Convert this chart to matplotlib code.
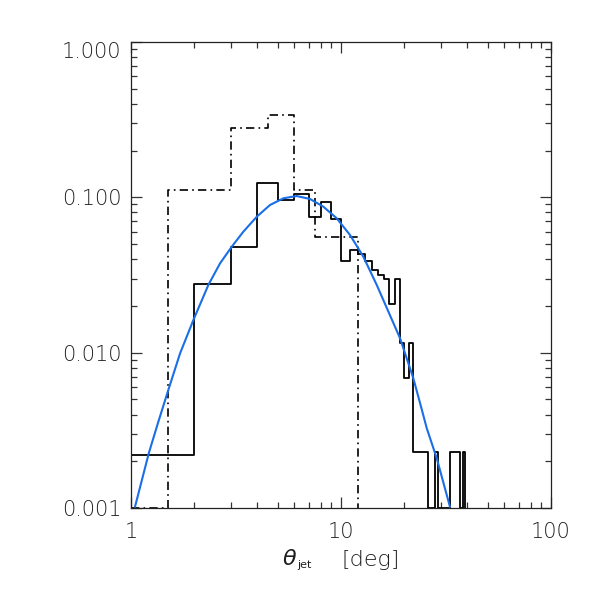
import numpy as np
import matplotlib
matplotlib.use("Agg")
import matplotlib.pyplot as plt

plt.rcParams['font.family'] = ['DejaVu Sans']
plt.rcParams['font.weight'] = 'light'

# solid histogram: integer bins from 1 to 39 deg
solid_edges = list(range(1, 40))
solid_vals = [0.0022, 0.0275, 0.0482, 0.123, 0.096, 0.105, 0.075, 0.094, 0.073,
              0.039, 0.0458, 0.0435, 0.0389, 0.0341, 0.0316, 0.0298, 0.0206,
              0.0298, 0.0115, 0.00685, 0.0115,
              0.0023, 0.0023, 0.0023, 0.0023, 0.0, 0.0, 0.0023,
              0.0, 0.0, 0.0, 0.0, 0.0023, 0.0023, 0.0023, 0.0023, 0.0, 0.0023]

# dash-dot histogram: 1.5 deg bins
dd_edges = [1.0, 1.5, 3.0, 4.5, 6.0, 7.5, 9.0, 10.5, 12.0]
dd_vals = [0.0, 0.111, 0.281, 0.338, 0.112, 0.0558, 0.0558, 0.0558]

# blue curve
curve_x = [1.045, 1.218, 1.349, 1.505, 1.712, 1.98, 2.335, 2.654, 3.017, 3.426,
           3.968, 4.590, 5.312, 6.152, 7.118, 8.237, 9.539, 11.04, 12.77, 14.79,
           16.81, 19.1, 22.09, 23.8, 25.6, 28.56, 33.0]
curve_y = [0.00102, 0.00228, 0.00359, 0.00575, 0.0099, 0.0162, 0.0273, 0.0376,
           0.0481, 0.0601, 0.0750, 0.0893, 0.0986, 0.1020, 0.0976, 0.0871,
           0.0733, 0.0572, 0.0415, 0.0273, 0.01837, 0.01238, 0.00684, 0.00472,
           0.00326, 0.00209, 0.00102]

ymin, ymax = 0.001, 1.0
txt_col = '#1e1e1e'


def step_xy(edges, vals):
    xs = np.repeat(edges, 2)
    ys = np.concatenate([[0], np.repeat(vals, 2), [0]])
    return xs, np.clip(ys, ymin, None)


fig = plt.figure(figsize=(5.91, 5.91), dpi=100)
ax = fig.add_axes([0.2217, 0.1404, 0.7107, 0.7885])

x, y = step_xy(solid_edges, solid_vals)
ax.plot(x, y, color='black', lw=1.3)
x, y = step_xy(dd_edges, dd_vals)
ax.plot(x, y, color='black', lw=1.2, dashes=(5, 2.5, 1, 2.5))
ax.plot(curve_x, curve_y, color='#1a6ee8', lw=1.5)

ax.set_xscale('log')
ax.set_yscale('log')
ax.set_xlim(1, 100)
ax.set_ylim(ymin, ymax)

ax.set_xticks([1, 10, 100])
ax.set_xticklabels(['1', '10', '100'])
ax.set_yticks([0.001, 0.01, 0.1, 1.0])
ax.set_yticklabels(['0.001', '0.010', '0.100', '1.000'])
ax.get_yticklabels()[-1].set_va('top')

ax.tick_params(which='both', direction='in', top=True, right=True, colors='#333333',
               labelcolor=txt_col, labelsize=15)
ax.tick_params(which='major', length=8, width=0.9)
ax.tick_params(which='minor', length=4, width=0.9)
ax.tick_params(axis='x', pad=10)
ax.tick_params(axis='y', pad=7)
for s in ax.spines.values():
    s.set_linewidth(0.9)
    s.set_color('#222222')

# x axis title: theta_jet [deg]
fig.text(283 / 591, 1 - 565 / 591, '\u03b8', fontsize=16, style='italic',
         color=txt_col, va='baseline', ha='left')
fig.text(297 / 591, 1 - 568 / 591, 'jet', fontsize=8, fontweight='normal',
         color=txt_col, va='baseline', ha='left')
fig.text(341 / 591, 1 - 566 / 591, '[deg]', fontsize=16,
         color=txt_col, va='baseline', ha='left')

fig.savefig('out.png', dpi=100)
